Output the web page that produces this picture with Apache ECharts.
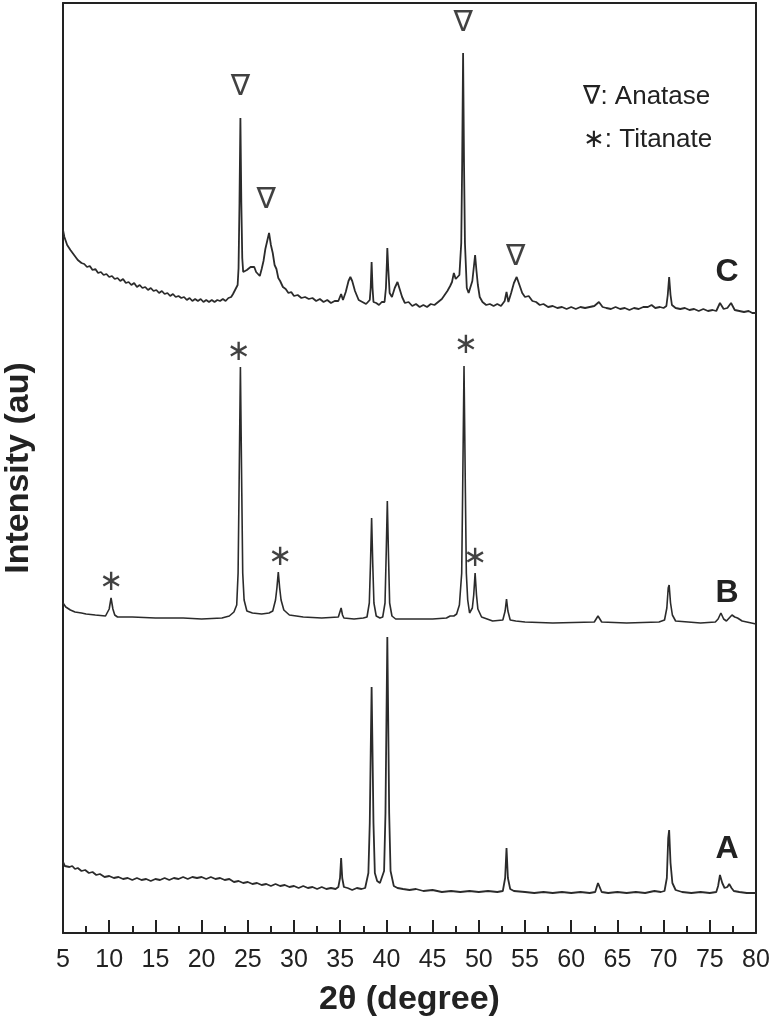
<!DOCTYPE html>
<html>
<head>
<meta charset="utf-8">
<script src="https://cdn.jsdelivr.net/npm/echarts@6/dist/echarts.min.js"></script>
<style>html,body{margin:0;padding:0;background:#fff;}#chart{width:770px;height:1026px;}</style>
</head>
<body>
<div id="chart"></div>
<script>
// 2θ (degree) vs intensity (au), curves stacked with offsets already included
const curveC = [
[5.0,703],[5.15,696],[5.3,694],[5.45,688],[5.6,687],[5.8,683],[6.0,681],[6.2,678],[6.4,677],[6.6,673],
[6.8,674],[7.0,670],[7.3,669],[7.6,666],[7.9,667],[8.2,663],[8.5,664],[8.8,660],[9.1,661],[9.4,658],
[9.7,659],[10.0,656],[10.3,657],[10.6,654],[10.9,655],[11.2,652],[11.5,654],[11.8,650],[12.1,651],[12.4,648],
[12.7,650],[13.0,646],[13.3,648],[13.6,645],[13.9,646],[14.2,643],[14.5,645],[14.8,642],[15.1,643],[15.4,640],
[15.7,642],[16.0,639],[16.3,640],[16.6,637],[16.9,639],[17.2,636],[17.5,637],[17.8,635],[18.1,636],[18.4,633],
[18.7,635],[19.0,632],[19.3,634],[19.6,632],[19.9,634],[20.2,631],[20.5,633],[20.8,631],[21.1,633],[21.4,631],
[21.7,633],[22.0,632],[22.3,634],[22.6,632],[22.9,635],[23.2,636],[23.4,639],[23.6,641],[23.9,648],[24.0,665],
[24.1,730],[24.2,815],[24.3,730],[24.4,675],[24.5,661],[24.7,660],[24.9,663],[25.1,661],[25.3,666],[25.5,664],
[25.7,666],[25.9,661],[26.1,660],[26.3,657],[26.5,664],[26.7,672],[26.9,684],[27.1,692],[27.3,700],[27.5,688],
[27.7,680],[27.9,668],[28.1,664],[28.3,655],[28.5,652],[28.8,646],[29.1,644],[29.4,640],[29.7,641],[30.0,637],
[30.4,638],[30.8,635],[31.2,636],[31.6,634],[32.0,635],[32.4,632],[32.8,634],[33.2,631],[33.6,633],[34.0,630],
[34.4,632],[34.8,632],[35.1,639],[35.3,633],[35.6,641],[35.9,652],[36.1,656],[36.3,652],[36.6,642],[37.0,633],
[37.4,631],[37.8,629],[38.2,633],[38.3,645],[38.4,671],[38.5,645],[38.6,631],[38.9,630],[39.2,628],[39.5,631],
[39.8,631],[39.95,645],[40.05,670],[40.1,685],[40.2,665],[40.35,640],[40.6,636],[40.9,645],[41.2,651],[41.4,645],
[41.7,636],[42.0,630],[42.4,631],[42.8,627],[43.2,629],[43.6,626],[44.0,628],[44.4,626],[44.8,629],[45.2,628],
[45.6,631],[46.0,634],[46.3,638],[46.6,642],[46.9,647],[47.1,651],[47.3,660],[47.5,654],[47.7,656],[47.9,658],
[48.1,690],[48.2,770],[48.3,880],[48.4,770],[48.5,690],[48.7,645],[48.9,640],[49.1,642],[49.3,652],[49.45,665],
[49.6,678],[49.75,662],[49.9,648],[50.1,636],[50.4,631],[50.8,628],[51.2,629],[51.6,627],[52.0,629],[52.4,627],
[52.8,632],[53.0,641],[53.2,631],[53.5,640],[53.8,650],[54.1,656],[54.4,648],[54.7,640],[55.0,636],[55.4,637],
[55.8,632],[56.2,631],[56.6,628],[57.0,629],[57.5,626],[58.0,627],[58.5,625],[59.0,626],[59.5,624],[60.0,626],
[60.5,624],[61.0,626],[61.5,625],[62.0,626],[62.5,627],[63.0,631],[63.4,626],[63.8,625],[64.3,624],[64.8,626],
[65.3,624],[65.8,625],[66.3,623],[66.8,625],[67.3,624],[67.8,626],[68.3,626],[68.7,628],[69.1,625],[69.6,626],
[70.0,625],[70.3,627],[70.45,638],[70.6,656],[70.75,638],[70.9,628],[71.3,625],[71.8,624],[72.3,625],[72.8,623],
[73.3,624],[73.8,622],[74.3,624],[74.8,622],[75.3,623],[75.7,622],[76.1,630],[76.5,624],[76.9,625],[77.3,630],
[77.7,623],[78.2,622],[78.7,621],[79.2,622],[79.6,620],[80.0,620]
];
const curveB = [
[5.0,330],[5.3,326],[5.8,323],[6.3,321],[7.0,320],[7.5,319],[8.5,318],[9.6,317],[9.8,318],[10.0,324],
[10.2,335],[10.4,324],[10.6,318],[10.9,316],[12.5,316],[15.0,315],[18.0,315],[20.0,314],[22.2,315],[23.0,317],
[23.5,321],[23.8,328],[23.95,360],[24.05,440],[24.2,566],[24.35,440],[24.45,360],[24.6,333],[24.9,322],[25.5,320],
[26.5,319],[27.3,320],[27.7,322],[28.0,333],[28.15,345],[28.3,361],[28.45,345],[28.6,333],[28.9,323],[29.5,318],
[31.0,316],[33.0,315],[34.8,316],[34.95,318],[35.1,325],[35.25,318],[35.4,315],[36.5,314],[37.5,315],[37.9,316],
[38.15,330],[38.28,370],[38.4,415],[38.52,370],[38.65,330],[38.9,317],[39.3,315],[39.6,316],[39.85,330],[39.98,380],
[40.1,432],[40.22,380],[40.35,330],[40.6,317],[41.0,314],[43.0,314],[45.0,314],[46.5,315],[46.9,317],[47.3,317],
[47.6,319],[47.9,328],[48.15,360],[48.25,440],[48.4,567],[48.55,440],[48.65,360],[48.8,333],[49.0,320],[49.15,321],
[49.3,325],[49.45,338],[49.6,360],[49.75,338],[49.9,324],[50.3,316],[51.5,312],[52.6,313],[52.85,322],[53.0,334],
[53.15,322],[53.4,313],[54.0,312],[55.0,311],[58.0,310],[62.5,311],[62.9,317],[63.3,311],[66.0,310],[69.5,311],
[70.1,313],[70.35,325],[70.5,345],[70.6,348],[70.75,330],[70.95,318],[71.3,312],[74.0,310],[75.6,311],[75.9,314],
[76.2,320],[76.5,314],[76.8,312],[77.1,315],[77.4,318],[77.7,316],[78.0,315],[78.5,312],[80.0,309]
];
const curveA = [
[5.0,71],[5.2,67],[5.4,69],[5.7,66],[6.0,67],[6.3,64],[6.6,65],[7.0,62],[7.4,63],[7.8,60],
[8.2,61],[8.6,58],[9.0,59],[9.5,56],[10.0,57],[10.5,55],[11.0,56],[11.5,54],[12.0,55],[12.5,53],
[13.0,55],[13.5,53],[14.0,54],[14.5,52],[15.0,54],[15.5,53],[16.0,55],[16.5,53],[17.0,55],[17.5,54],
[18.0,56],[18.5,54],[19.0,56],[19.5,55],[20.0,56],[20.5,54],[21.0,56],[21.5,54],[22.0,55],[22.5,53],
[23.0,54],[23.5,51],[24.0,52],[24.5,50],[25.0,51],[25.5,49],[26.0,50],[26.5,48],[27.0,49],[27.5,47],
[28.0,49],[28.5,47],[29.0,48],[29.5,46],[30.0,47],[30.5,45],[31.0,47],[31.5,45],[32.0,46],[32.5,44],
[33.0,46],[33.5,44],[34.0,45],[34.5,44],[34.8,46],[34.98,55],[35.1,75],[35.22,55],[35.4,46],[35.8,45],
[36.3,43],[36.8,45],[37.3,44],[37.7,45],[38.05,60],[38.2,110],[38.3,180],[38.4,246],[38.5,180],[38.6,110],
[38.75,60],[39.0,52],[39.3,50],[39.5,50],[39.75,62],[39.9,120],[40.0,210],[40.1,296],[40.2,210],[40.3,120],
[40.45,62],[40.8,47],[41.2,45],[41.8,44],[42.5,43],[43.2,44],[44.0,42],[45.0,43],[46.0,41],[47.0,42],
[48.0,41],[49.0,42],[50.0,41],[51.0,42],[52.0,41],[52.6,42],[52.85,55],[53.0,85],[53.15,55],[53.4,44],
[53.8,42],[55.0,41],[56.0,40],[57.0,41],[58.0,40],[59.0,41],[60.0,40],[61.0,41],[62.0,40],[62.6,41],
[62.9,50],[63.3,41],[64.0,40],[65.0,41],[66.0,40],[67.0,41],[68.0,40],[69.0,42],[69.7,41],[70.1,42],
[70.35,55],[70.5,95],[70.6,103],[70.75,70],[70.95,50],[71.3,43],[72.0,41],[73.0,40],[74.0,41],[75.0,40],
[75.7,41],[75.9,47],[76.1,58],[76.35,50],[76.6,45],[76.9,46],[77.1,49],[77.35,45],[77.6,42],[78.2,41],
[79.0,40],[80.0,40]
];
// peak annotations [2θ, height]
const anataseMarks = [[24.2,846],[27.0,733],[48.3,910],[54.0,676]];
const titanateMarks = [[10.2,351],[24.0,581],[28.5,376],[48.6,588],[49.6,375]];
const sampleLabels = [['C',727,272],['B',727,593],['A',727,849]];
const xTicks = {min:5, max:80, interval:5};

const chart = echarts.init(document.getElementById('chart'), null, {renderer:'canvas'});
const lineColor = '#2b2b2b';
const font = 'Liberation Sans, Arial, DejaVu Sans, sans-serif';
function lineSeries(d, w){
  return {type:'line', data:d, showSymbol:false, symbol:'none', smooth:false,
    lineStyle:{color:lineColor, width:w}, animation:false, z:3};
}
function markSeries(d, txt, size, weight){
  return {type:'scatter', data:d, symbolSize:0, animation:false, z:4,
    label:{show:true, position:'inside', formatter:txt, color:'#111', fontSize:size, fontWeight:weight, fontFamily:'DejaVu Sans, sans-serif'}};
}
chart.setOption({
  backgroundColor:'#fff',
  grid:{left:63, right:14, top:3, bottom:93, containLabel:false, outerBoundsMode:'none'},
  xAxis:[{
    type:'value', min:xTicks.min, max:xTicks.max, interval:xTicks.interval, position:'bottom',
    axisLine:{show:true, onZero:false, lineStyle:{color:'#222', width:2}},
    axisTick:{show:true, inside:true, length:13, lineStyle:{color:'#222', width:2}},
    minorTick:{show:true, splitNumber:2, length:7, lineStyle:{color:'#222', width:2}},
    axisLabel:{color:'#222', fontSize:25, fontFamily:font, margin:15},
    splitLine:{show:false},
    name:'2θ (degree)', nameLocation:'middle', nameGap:50,
    nameTextStyle:{color:'#222', fontSize:34, fontWeight:'bold', fontFamily:font}
  },{
    type:'value', min:xTicks.min, max:xTicks.max, position:'top',
    axisLine:{show:true, onZero:false, lineStyle:{color:'#222', width:2}},
    axisTick:{show:false}, axisLabel:{show:false}, splitLine:{show:false}
  }],
  yAxis:[{
    type:'value', min:0, max:930, position:'left',
    axisLine:{show:true, onZero:false, lineStyle:{color:'#222', width:2}},
    axisTick:{show:false}, axisLabel:{show:false}, splitLine:{show:false},
    name:'Intensity (au)', nameLocation:'middle', nameGap:27, nameRotate:90,
    nameTextStyle:{color:'#222', fontSize:34, fontWeight:'bold', fontFamily:font}
  },{
    type:'value', min:0, max:930, position:'right',
    axisLine:{show:true, onZero:false, lineStyle:{color:'#222', width:2}},
    axisTick:{show:false}, axisLabel:{show:false}, splitLine:{show:false}
  }],
  series:[
    lineSeries(curveC, 1.8),
    lineSeries(curveB, 1.6),
    lineSeries(curveA, 1.8),
    markSeries(anataseMarks, '∇', 29, 'normal'),
    markSeries(titanateMarks, '∗', 29, 'normal')
  ],
  graphic:[
    {type:'text', left:583, top:84, style:{text:'∇: Anatase', fontSize:26, fontFamily:font, fill:'#222'}},
    {type:'text', left:583, top:127, style:{text:'∗: Titanate', fontSize:26, fontFamily:font, fill:'#222'}}
  ].concat(sampleLabels.map(s=>({type:'text', x:s[1], y:s[2],
    style:{text:s[0], fontSize:32, fontWeight:'bold', fontFamily:font, fill:'#222', align:'center', verticalAlign:'middle'}})))
});
</script>
</body>
</html>
